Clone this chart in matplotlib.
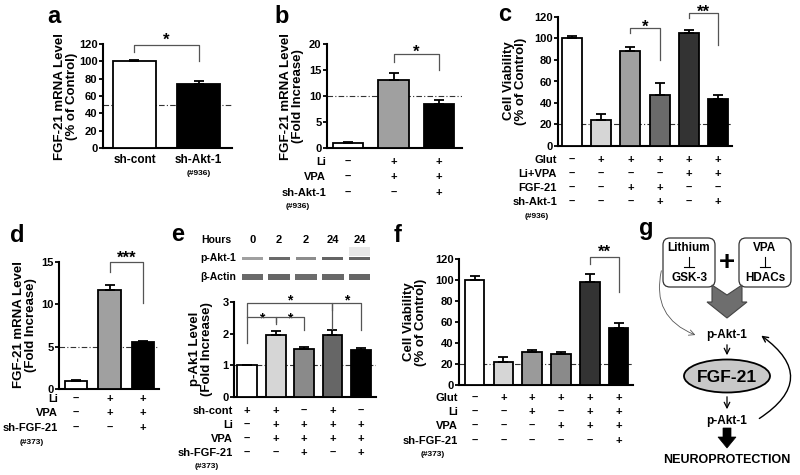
import numpy as np
import matplotlib
matplotlib.use('Agg')
import matplotlib.pyplot as plt
from matplotlib.patches import FancyBboxPatch, Ellipse, Polygon
from matplotlib.transforms import blended_transform_factory

plt.rcParams['font.family'] = ['Liberation Sans', 'DejaVu Sans']
plt.rcParams['font.weight'] = 'bold'

# ---- data ----
a_labels = ['sh-cont', 'sh-Akt-1']
a_vals = [100, 74]
a_err = [1, 3]

b_vals = [1.0, 13.0, 8.4]
b_err = [0.1, 1.4, 0.8]
b_rows = {'Li': '-++', 'VPA': '-++', 'sh-Akt-1': '--+'}

c_vals = [100, 24, 88.5, 47, 105, 43.5]
c_err = [2.5, 5.5, 4, 11.5, 2.5, 4]
c_rows = {'Glut': '-+++++', 'Li+VPA': '----++', 'FGF-21': '--++--', 'sh-Akt-1': '---+-+'}

d_vals = [1.0, 11.7, 5.5]
d_err = [0.05, 0.6, 0.2]
d_rows = {'Li': '-++', 'VPA': '-++', 'sh-FGF-21': '--+'}

e_hours = ['0', '2', '2', '24', '24']
e_vals = [1.0, 1.97, 1.53, 1.97, 1.5]
e_err = [0, 0.13, 0.04, 0.15, 0.06]
e_rows = {'sh-cont': '++-+-', 'Li': '-++++', 'VPA': '-++++', 'sh-FGF-21': '--+-+'}

f_vals = [100, 21.5, 31.5, 29.5, 98.5, 54]
f_err = [4, 5, 1.5, 1.5, 7, 5.5]
f_rows = {'Glut': '-+++++', 'Li': '--+-++', 'VPA': '---+++', 'sh-FGF-21': '-----+'}

# band darkness on the western blot (grey levels)
pakt_band = ['#a0a0a0', '#6a6a6a', '#8c8c8c', '#646464', '#646464']
actin_band = ['#6a6a6a', '#666666', '#6c6c6c', '#686868', '#666666']

W, H = 800, 475
fig = plt.figure(figsize=(8, 4.75), dpi=100)


def px_ax(left, right, top, bottom):
    # axes placed with pixel coordinates of the reference picture
    return fig.add_axes([left / W, 1 - bottom / H, (right - left) / W, (bottom - top) / H])


def ftext(x, y, s, **kw):
    fig.text(x / W, 1 - y / H, s, **kw)


def bar_panel(ax, vals, errs, colors, ymax, ystep, ref, xlim, width):
    x = np.arange(len(vals))
    ax.axhline(ref, color='#333333', lw=0.8, ls=(0, (5, 2, 1, 2)), zorder=1)
    ax.bar(x, vals, width=width, color=colors, edgecolor='black', linewidth=1.3, zorder=3)
    ax.errorbar(x, vals, yerr=[np.zeros(len(vals)), errs], fmt='none', ecolor='black',
                elinewidth=1.3, capsize=3.5, capthick=1.3, zorder=4)
    ax.set_xlim(xlim)
    ax.set_ylim(0, ymax)
    ax.set_yticks(np.arange(0, ymax + 0.01, ystep))
    ax.set_xticks([])
    for s in ['top', 'right']:
        ax.spines[s].set_visible(False)
    for s in ['left', 'bottom']:
        ax.spines[s].set_linewidth(1.5)
    ax.tick_params(axis='y', direction='out', length=3, width=1.3, labelsize=8, pad=1)
    ax.patch.set_alpha(0)


def bracket(ax, i1, i2, ytop, yl, yr, stars, gap, fs=12):
    ax.plot([i1, i1, i2, i2], [yl, ytop, ytop, yr], color='#555555', lw=0.9, clip_on=False, zorder=5)
    ax.annotate(stars, xy=((i1 + i2) / 2, ytop), xytext=(0, (gap - 0.58 * fs * 1.389) * 0.72),
                textcoords='offset points', ha='center', va='baseline', fontsize=fs,
                annotation_clip=False)


def sign_rows(ax, rows, ys, sub, sub_y, sub_x):
    left_px = ax.get_position().x0 * W
    tr = blended_transform_factory(ax.transData, fig.transFigure)
    for (name, signs), y in zip(rows.items(), ys):
        ftext(left_px - 1, y, name, ha='right', va='center', fontsize=8)
        for i, s in enumerate(signs):
            ax.text(i, 1 - y / H, '+' if s == '+' else '–', transform=tr,
                    ha='center', va='center', fontsize=8)
    ftext(sub_x, sub_y, sub, ha='center', va='center', fontsize=6)


def ylab(x, y, s):
    ftext(x, y, s, rotation=90, ha='center', va='center', fontsize=9.5, linespacing=1.05)


# ---- a ----
ax = px_ax(103, 232, 44, 148)
bar_panel(ax, a_vals, a_err, ['white', 'black'], 120, 20, 50, (-0.49, 1.52), 0.67)
bracket(ax, 0, 1, 118.5, 111, 100.5, '*', 10)
tr = blended_transform_factory(ax.transData, fig.transFigure)
for i, lab in enumerate(a_labels):
    ax.text(i, 1 - 160 / H, lab, transform=tr, ha='center', va='center', fontsize=8.5)
ax.text(1, 1 - 174 / H, '(#936)', transform=tr, ha='center', va='center', fontsize=6)
ylab(66, 96, 'FGF-21 mRNA Level\n(% of Control)')
ftext(54, 23, 'a', fontsize=17, ha='center', va='baseline')

# ---- b ----
ax = px_ax(327, 462, 44, 148)
bar_panel(ax, b_vals, b_err, ['white', '#a0a0a0', 'black'], 20, 5, 10, (-0.46, 2.5), 0.67)
bracket(ax, 1, 2, 18, 16.6, 15, '*', 7)
sign_rows(ax, b_rows, [162, 177, 193], '(#936)', 207, 298)
ylab(292, 96, 'FGF-21 mRNA Level\n(Fold Increase)')
ftext(282, 23, 'b', fontsize=17, ha='center', va='baseline')

# ---- c ----
ax = px_ax(558, 732, 17, 146)
bar_panel(ax, c_vals, c_err, ['white', '#d6d6d6', '#a0a0a0', '#6a6a6a', '#333333', 'black'],
          120, 20, 20, (-0.48, 5.48), 0.68)
bracket(ax, 2, 3, 109.5, 105, 80, '*', 6)
bracket(ax, 4, 5, 123.5, 119, 94, '**', 6)
sign_rows(ax, c_rows, [160, 174, 188, 202], '(#936)', 216, 537)
ylab(515, 81, 'Cell Viability\n(% of Control)')
ftext(505, 21, 'c', fontsize=17, ha='center', va='baseline')

# ---- d ----
ax = px_ax(59, 159, 262, 389)
bar_panel(ax, d_vals, d_err, ['white', '#a0a0a0', 'black'], 15, 5, 5, (-0.51, 2.48), 0.66)
bracket(ax, 1, 2, 15, 13.8, 10.2, '***', 9)
sign_rows(ax, d_rows, [399, 413, 428], '(#373)', 442, 32)
ylab(25, 325, 'FGF-21 mRNA Level\n(Fold Increase)')
ftext(17, 242, 'd', fontsize=17, ha='center', va='baseline')

# ---- e: blot ----
bx = px_ax(239, 373, 233, 285)
bx.set_xlim(-0.5, 4.5)
bx.set_ylim(285, 233)
bx.axis('off')
lanes = np.arange(len(e_hours))
bx.bar(4, 9, bottom=247, width=0.8, color='#e8e8e8')
bx.bar(lanes, 3, bottom=256.5, width=0.78, color=pakt_band)
bx.bar(lanes, 5.5, bottom=274, width=0.8, color=actin_band)
for i, h in enumerate(e_hours):
    bx.text(i, 240, h, ha='center', va='center', fontsize=8)
ftext(201, 240, 'Hours', ha='left', va='center', fontsize=7.5)
ftext(200, 258, 'p-Akt-1', ha='left', va='center', fontsize=7.5)
ftext(200, 277, 'β-Actin', ha='left', va='center', fontsize=7.5)
ftext(178, 241, 'e', fontsize=17, ha='center', va='baseline')

# ---- e: bars ----
ax = px_ax(234, 376, 302, 397)
bar_panel(ax, e_vals, e_err, ['white', '#d6d6d6', '#8a8a8a', '#666666', 'black'],
          3, 1, 1, (-0.46, 4.53), 0.7)
bracket(ax, 0, 3, 2.98, 1.72, 2.15, '*', 6, fs=10)
bracket(ax, 0, 1, 2.52, 2.52, 2.3, '*', 3, fs=10)
bracket(ax, 1, 2, 2.52, 2.36, 2.12, '*', 3, fs=10)
bracket(ax, 3, 4, 2.98, 2.74, 2.12, '*', 6, fs=10)
sign_rows(ax, e_rows, [411, 425, 439, 453], '(#373)', 467, 207)
ylab(201, 349, 'p-Ak1 Level\n(Fold Increase)')

# ---- f ----
ax = px_ax(459, 633, 259, 385)
bar_panel(ax, f_vals, f_err, ['white', '#d6d6d6', '#9a9a9a', '#8a8a8a', '#333333', 'black'],
          120, 20, 20, (-0.54, 5.5), 0.68)
bracket(ax, 4, 5, 122, 115, 89, '**', 10)
sign_rows(ax, f_rows, [398, 412, 426, 441], '(#373)', 455, 433)
ylab(415, 322, 'Cell Viability\n(% of Control)')
ftext(398, 242, 'f', fontsize=17, ha='center', va='baseline')

# ---- g: scheme ----
gx = px_ax(630, 800, 220, 475)
gx.set_xlim(630, 800)
gx.set_ylim(475, 220)
gx.axis('off')
for cx, top_t, bot_t in [(689, 'Lithium', 'GSK-3'), (765, 'VPA', 'HDACs')]:
    gx.add_patch(FancyBboxPatch((cx - 26, 238), 52, 49, boxstyle='round,pad=0,rounding_size=7',
                                fc='white', ec='#333333', lw=0.9))
    gx.text(cx, 248, top_t, ha='center', va='center', fontsize=8.5)
    gx.text(cx, 278, bot_t, ha='center', va='center', fontsize=8.5)
    gx.plot([cx, cx], [257, 267], color='black', lw=0.8)
    gx.plot([cx - 5, cx + 5], [267, 267], color='black', lw=0.8)
gx.text(727, 263, '+', ha='center', va='center', fontsize=20)
gx.add_patch(Polygon([(712, 285), (727, 295), (742, 285), (742, 302), (747, 302),
                      (727, 318), (707, 302), (712, 302)], closed=True,
                     fc='#6e6e6e', ec='#444444', lw=0.8))
gx.text(727, 335, 'p-Akt-1', ha='center', va='center', fontsize=8.5)
gx.annotate('', xy=(727, 358), xytext=(727, 342),
            arrowprops=dict(arrowstyle='->', lw=0.9, color='black'))
gx.add_patch(Ellipse((727, 376), 86, 33, fc='#c8c8c8', ec='black', lw=1.3))
gx.text(727, 377, 'FGF-21', ha='center', va='center', fontsize=12.5)
gx.annotate('', xy=(727, 412), xytext=(727, 394),
            arrowprops=dict(arrowstyle='->', lw=0.9, color='black'))
gx.text(727, 421, 'p-Akt-1', ha='center', va='center', fontsize=8.5)
gx.add_patch(Polygon([(723, 428), (731, 428), (731, 437), (736, 437), (727, 448),
                      (718, 437), (723, 437)], closed=True, fc='black', ec='black', lw=0.5))
gx.text(727, 460, 'NEUROPROTECTION', ha='center', va='center', fontsize=9)
gx.annotate('', xy=(698, 336), xytext=(662, 268),
            arrowprops=dict(arrowstyle='->', lw=0.6, color='#555555',
                            connectionstyle='arc3,rad=0.45'))
gx.annotate('', xy=(759, 334), xytext=(757, 420),
            arrowprops=dict(arrowstyle='->', lw=1.0, color='black',
                            connectionstyle='arc3,rad=0.75'))
ftext(646, 235, 'g', fontsize=17, ha='center', va='baseline')

fig.savefig('out.png', dpi=100)
